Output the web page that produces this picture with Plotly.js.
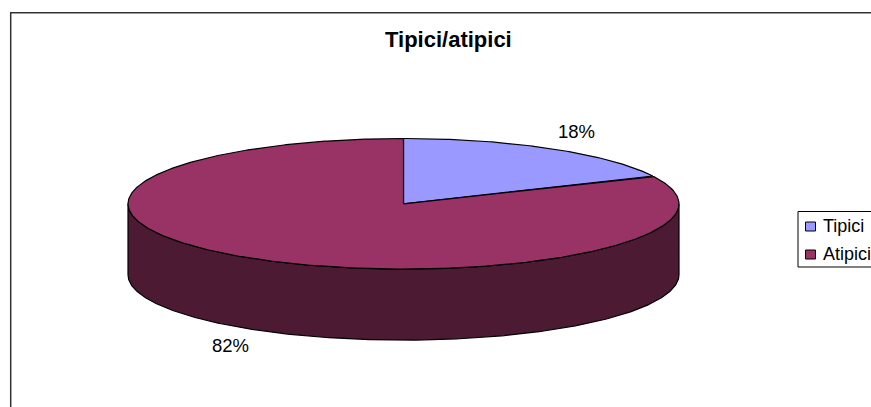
<!DOCTYPE html>
<html>
<head>
<meta charset="utf-8">
<script src="https://cdn.plot.ly/plotly-3.0.1.min.js"></script>
<style>html,body{margin:0;padding:0;background:#fff;overflow:hidden}#c{width:871px;height:407px}</style>
</head>
<body>
<div id="c"></div>
<script>
const categories = ['Tipici', 'Atipici'];
const values = [18, 82];
const topColors = ['#9999FF', '#993366'];
const wallColors = ['#4D4D80', '#4D1A33'];
const chartTitle = 'Tipici/atipici';

const W = 871, H = 407;
const cx = 403.5, cy = 203.8, rx = 275.5, ry = 65.3, depth = 71;
const FONT = '"Liberation Sans", Arial, sans-serif';

const total = values.reduce((a, b) => a + b, 0);
const px = t => cx + rx * Math.sin(t);
const py = t => cy - ry * Math.cos(t);
const traces = [], annotations = [];
const arc = (a, b) => {
  const n = Math.max(2, Math.ceil((b - a) / 0.01)), out = [];
  for (let i = 0; i <= n; i++) out.push(a + (b - a) * i / n);
  return out;
};
let start = 0;
const slices = values.map(v => {
  const s = { a: start, b: start + 2 * Math.PI * v / total, v };
  start = s.b;
  return s;
});
// side walls: only the front half of the ellipse is visible
slices.forEach((s, i) => {
  const a = Math.max(s.a, Math.PI / 2), b = Math.min(s.b, 3 * Math.PI / 2);
  if (b <= a) return;
  const ts = arc(a, b);
  const x = ts.map(px).concat(ts.slice().reverse().map(px));
  const y = ts.map(py).concat(ts.slice().reverse().map(t => py(t) + depth));
  x.push(x[0]); y.push(y[0]);
  traces.push({ x, y, type: 'scatter', mode: 'lines', fill: 'toself', fillcolor: wallColors[i],
    line: { color: '#000', width: 1.2 }, hoverinfo: 'skip', showlegend: false });
});
// top faces
slices.forEach((s, i) => {
  const ts = arc(s.a, s.b);
  const x = [cx].concat(ts.map(px), [cx]);
  const y = [cy].concat(ts.map(py), [cy]);
  traces.push({ x, y, type: 'scatter', mode: 'lines', fill: 'toself', fillcolor: topColors[i],
    line: { color: '#000', width: 1.2 }, name: categories[i], text: categories[i], hoverinfo: 'text', showlegend: false });
  // percentage labels
  const m = (s.a + s.b) / 2;
  annotations.push({
    x: cx + rx * 1.175 * Math.sin(m),
    y: cy - ry * 1.3 * Math.cos(m) + (Math.cos(m) < 0 ? depth : 0) - 1,
    xref: 'x', yref: 'y', text: Math.round(100 * s.v / total) + '%', showarrow: false,
    font: { family: FONT, size: 18.5, color: '#000' }, xanchor: 'center', yanchor: 'middle'
  });
});

annotations.push({ x: 448, y: 39, xref: 'x', yref: 'y', text: '<b>' + chartTitle + '</b>', showarrow: false,
  font: { family: FONT, size: 22, color: '#000' }, xanchor: 'center', yanchor: 'middle' });

const shapes = [
  { type: 'rect', xref: 'x', yref: 'y', x0: 10.7, y0: 12.7, x1: 900, y1: 450, line: { color: '#333', width: 1.5 }, fillcolor: 'rgba(0,0,0,0)', layer: 'below' },
  { type: 'rect', xref: 'x', yref: 'y', x0: 798, y0: 211.5, x1: 900, y1: 267, line: { color: '#000', width: 1 }, fillcolor: '#fff', layer: 'below' }
];
categories.forEach((c, i) => {
  const yc = 226.5 + i * 28;
  shapes.push({ type: 'rect', xref: 'x', yref: 'y', x0: 805.5, x1: 815.5, y0: yc - 4.5, y1: yc + 4.5,
    line: { color: '#000', width: 1 }, fillcolor: topColors[i] });
  annotations.push({ x: 820.5, y: yc - 1, xref: 'x', yref: 'y', text: c, showarrow: false,
    font: { family: FONT, size: 18, color: '#000' }, xanchor: 'left', yanchor: 'middle' });
});

Plotly.newPlot('c', traces, {
  width: W, height: H,
  margin: { l: 0, r: 0, t: 0, b: 0, pad: 0 },
  paper_bgcolor: '#fff', plot_bgcolor: '#fff',
  showlegend: false,
  xaxis: { range: [0, W], visible: false, fixedrange: true },
  yaxis: { range: [H, 0], visible: false, fixedrange: true },
  shapes, annotations
}, { displayModeBar: false, staticPlot: true });
</script>
</body>
</html>
